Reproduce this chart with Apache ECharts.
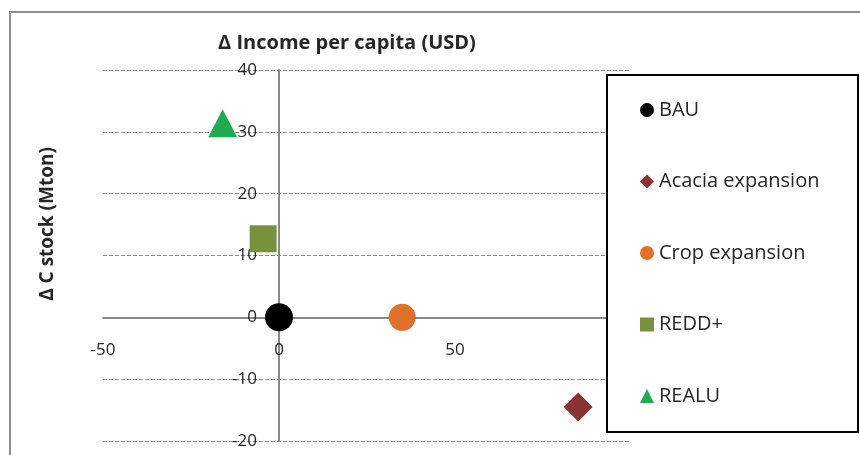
<!DOCTYPE html>
<html>
<head>
<meta charset="utf-8">
<script src="https://cdn.jsdelivr.net/npm/echarts@6/dist/echarts.min.js"></script>
<style>
  html, body { margin: 0; padding: 0; background: #fff; }
  #chart { width: 860px; height: 455px; }
</style>
</head>
<body>
<div id="chart"></div>
<script>
// scenarios, in legend order
const scenarios = ['BAU', 'Acacia expansion', 'Crop expansion', 'REDD+', 'REALU'];
// Δ income per capita (USD)
const incomeDelta = [0, 85, 35, -4.5, -16];
// Δ C stock (Mton)
const carbonDelta = [0, -14.5, 0, 12.7, 31.4];

// axis ticks
const xTicks = [-50, 0, 50, 100];
const yTicks = [-20, -10, 0, 10, 20, 30, 40];

// marker styles
const markerStyle = {
    'BAU': { symbol: 'circle', size: 28, color: '#000000' },
    'Acacia expansion': { symbol: 'diamond', size: 29, color: '#8b3333' },
    'Crop expansion': { symbol: 'circle', size: 27, color: '#e0702a' },
    'REDD+': { symbol: 'rect', size: 27, color: '#77923c' },
    'REALU': { symbol: 'triangle', size: [29, 28], color: '#20ab52' }
};

const chart = echarts.init(document.getElementById('chart'));
const font = '"Open Sans", sans-serif';

// plot box in pixels
const gridBox = { left: 103, right: 229, top: 70, bottom: 14 };
const plotW = 860 - gridBox.left - gridBox.right;
const plotH = 455 - gridBox.top - gridBox.bottom;
const xMin = xTicks[0], xMax = xTicks[xTicks.length - 1];
const yMin = yTicks[0], yMax = yTicks[yTicks.length - 1];
// shift axes so they cross at zero (labels follow the lines)
const yAxisShift = (0 - xMin) / (xMax - xMin) * plotW;
const xAxisShift = (0 - yMin) / (yMax - yMin) * plotH;

const series = scenarios.map((name, i) => ({
    name: name,
    type: 'scatter',
    data: [[incomeDelta[i], carbonDelta[i]]],
    symbol: markerStyle[name].symbol,
    symbolSize: markerStyle[name].size,
    itemStyle: { color: markerStyle[name].color, opacity: 1 },
    z: 5
}));

const option = {
    animation: false,
    textStyle: { fontFamily: font },
    grid: Object.assign({ outerBoundsMode: 'none', containLabel: false }, gridBox),
    xAxis: {
        type: 'value',
        min: xMin,
        max: xMax,
        interval: 50,
        position: 'bottom',
        offset: -xAxisShift,
        axisLine: { onZero: false, lineStyle: { color: '#888', width: 2 } },
        axisTick: { show: false },
        splitLine: { show: false },
        axisLabel: { margin: 24, fontSize: 17, color: '#262626', fontFamily: font, showMaxLabel: false }
    },
    yAxis: {
        type: 'value',
        min: yMin,
        max: yMax,
        interval: 10,
        position: 'left',
        offset: -yAxisShift,
        axisLine: { show: true, onZero: false, lineStyle: { color: '#888', width: 2 } },
        axisTick: { show: false },
        splitLine: { show: true, lineStyle: { color: '#8c8c8c', width: 1, type: [4, 2] } },
        axisLabel: { margin: 22, fontSize: 17, color: '#262626', fontFamily: font }
    },
    legend: {
        data: scenarios,
        orient: 'vertical',
        left: 640,
        top: 100,
        padding: 0,
        itemGap: 51.5,
        itemWidth: 14,
        itemHeight: 14,
        itemTextGap: 5,
        z: 20,
        textStyle: { fontSize: 20, lineHeight: 20, color: '#262626', fontFamily: font }
    },
    graphic: [
        {
            type: 'rect',
            shape: { x: 10, y: 12, width: 900, height: 500 },
            style: { fill: 'none', stroke: '#8c8c8c', lineWidth: 2 },
            z: -1
        },
        {
            type: 'rect',
            shape: { x: 607, y: 75, width: 251, height: 357 },
            style: { fill: '#fff', stroke: '#000', lineWidth: 2 },
            z: 10
        },
        {
            type: 'text',
            x: 347,
            y: 43,
            style: {
                text: 'Δ Income per capita (USD)',
                fontSize: 20, fontWeight: 'bold', fontFamily: font, fill: '#262626',
                textAlign: 'center', textVerticalAlign: 'middle'
            }
        },
        {
            type: 'text',
            x: 48,
            y: 224,
            rotation: Math.PI / 2,
            style: {
                text: 'Δ C stock (Mton)',
                fontSize: 19, fontWeight: 'bold', fontFamily: font, fill: '#262626',
                textAlign: 'center', textVerticalAlign: 'middle'
            }
        }
    ],
    series: series
};

chart.setOption(option);
</script>
</body>
</html>
